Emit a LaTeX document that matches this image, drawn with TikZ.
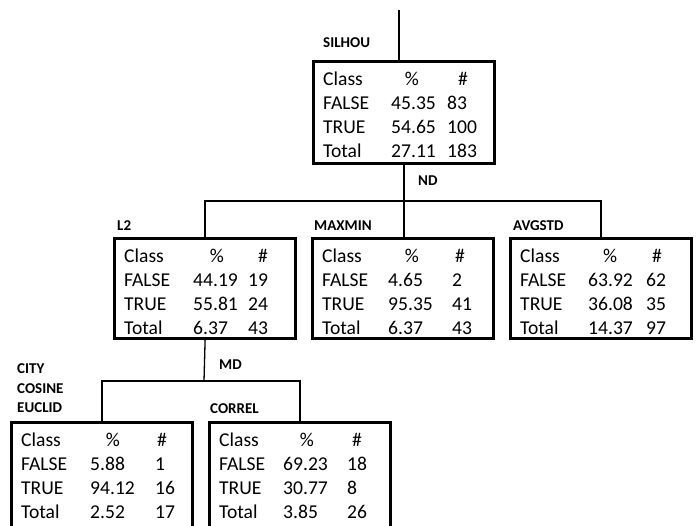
\documentclass[tikz,border=0pt]{standalone}
\usepackage{fontspec}
\setmainfont{Carlito}
\tikzset{
  tbox/.style={draw=black, line width=3.2pt, anchor=north west, inner sep=0pt,
    minimum width=181pt, minimum height=#1},
  tbox/.default=101pt,
  cell/.style={anchor=base west, inner sep=0pt, font=\fontsize{19.6}{24}\selectfont},
  head/.style={anchor=base, inner sep=0pt, font=\fontsize{19.6}{24}\selectfont},
  lab/.style={anchor=base west, inner sep=0pt, font=\fontsize{15}{18}\selectfont\bfseries},
  conn/.style={line width=1.3pt, draw=black}
}
% name, left, top, num offset, count offset, % centre, # centre, rows, height
\newcommand{\statbox}[9]{%
  \node[tbox=#9] (#1) at (#2,#3) {};
  \node[cell] (#1-hc) at ({#2+11},{#3+25}) {Class};
  \node[head] (#1-hp) at ({#2+#6},{#3+25}) {\%};
  \node[head] (#1-hn) at ({#2+#7},{#3+25}) {\#};
  \foreach \c/\p/\n [count=\i] in {#8} {
    \node[cell] (#1-c\i) at ({#2+11},{#3+25+24*\i}) {\c};
    \node[cell] (#1-p\i) at ({#2+#4},{#3+25+24*\i}) {\p};
    \node[cell] (#1-n\i) at ({#2+#5},{#3+25+24*\i}) {\n};
  }%
}
\begin{document}
\begin{tikzpicture}[x=1pt, y=-1pt]
\useasboundingbox (0,0) rectangle (696,525);
\clip (0,0) rectangle (696,525);
\fill[white] (0,0) rectangle (696,525);

\statbox{root}{312}{60}{79}{135}{100}{151}{FALSE/45.35/83,TRUE/54.65/100,Total/27.11/183}{102pt}
\statbox{l2}{113}{237}{80}{135}{104}{150}{FALSE/44.19/19,TRUE/55.81/24,Total/6.37/43}{100pt}
\statbox{maxmin}{311}{237}{77}{141}{101}{149}{FALSE/4.65/2,TRUE/95.35/41,Total/6.37/43}{100pt}
\statbox{avg}{509}{237}{79}{137}{101}{148}{FALSE/63.92/62,TRUE/36.08/35,Total/14.37/97}{100pt}
\statbox{bl}{10}{421}{80}{145}{103}{152}{FALSE/5.88/1,TRUE/94.12/16,Total/2.52/17}{115pt}
\statbox{cor}{208}{421}{75}{139}{99}{149}{FALSE/69.23/18,TRUE/30.77/8,Total/3.85/26}{115pt}

% labels
\node[lab] (lsil) at (323,47) {SILHOU};
\node[lab] (lnd) at (418,185) {ND};
\node[lab] (ll2) at (117,230) {L2};
\node[lab] (lmax) at (314,230) {MAXMIN};
\node[lab] (lavg) at (513,230) {AVGSTD};
\node[lab] (lmd) at (219,369) {MD};
\node[lab] (lcity) at (17,373) {CITY};
\node[lab] (lcos) at (17,393) {COSINE};
\node[lab] (leuc) at (17,412) {EUCLID};
\node[lab] (lcor) at (210,413) {CORREL};

% connectors
\coordinate (topend) at (399,10);
\coordinate (j1) at (402,201);
\coordinate (j2) at (204,381);
\draw[conn] (topend) -- (topend |- root.north);
\draw[conn] (root.south) -- (root.south |- maxmin.north);
\draw[conn] (l2.north) -- (l2.north |- j1) -- (avg.north |- j1) -- (avg.north);
\draw[conn] (l2.south) -- (j2);
\draw[conn] (bl.north) -- (bl.north |- j2) -- (cor.north |- j2) -- (cor.north);
\end{tikzpicture}
\end{document}
